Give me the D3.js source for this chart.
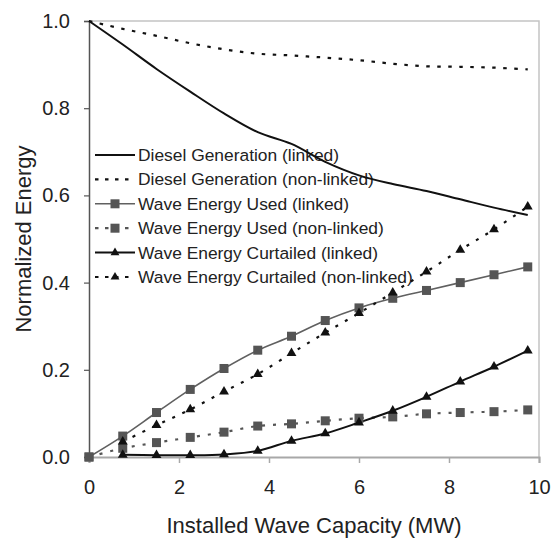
<!DOCTYPE html>
<html>
<head>
<meta charset="utf-8">
<script src="https://cdn.jsdelivr.net/npm/d3@7"></script>
<style>
  html, body { margin: 0; padding: 0; background: #fff; }
  svg { display: block; font-family: Arial, "Liberation Sans", sans-serif; }
</style>
</head>
<body>
<svg id="chart" width="554" height="539"></svg>
<script>
// ---- data ----
const capacity = [0, 0.75, 1.5, 2.25, 3, 3.75, 4.5, 5.25, 6, 6.75, 7.5, 8.25, 9, 9.75];
const dieselLinked    = [1.0, 0.946, 0.890, 0.838, 0.788, 0.745, 0.718, 0.677, 0.646, 0.626, 0.610, 0.591, 0.572, 0.555];
const dieselNonLinked = [1.0, 0.982, 0.966, 0.949, 0.935, 0.925, 0.921, 0.916, 0.910, 0.902, 0.896, 0.895, 0.893, 0.889];
const usedLinked      = [0, 0.048, 0.102, 0.155, 0.203, 0.245, 0.277, 0.313, 0.342, 0.364, 0.382, 0.400, 0.418, 0.436];
const usedNonLinked   = [0, 0.020, 0.033, 0.045, 0.057, 0.071, 0.076, 0.083, 0.089, 0.092, 0.099, 0.102, 0.104, 0.108];
const curtLinked      = [null, 0.005, 0.004, 0.004, 0.006, 0.014, 0.037, 0.054, 0.079, 0.106, 0.138, 0.173, 0.207, 0.244];
const curtNonLinked   = [null, 0.035, 0.073, 0.109, 0.150, 0.190, 0.238, 0.285, 0.330, 0.377, 0.425, 0.475, 0.522, 0.574];
const seriesNames = [
  "Diesel Generation (linked)",
  "Diesel Generation (non-linked)",
  "Wave Energy Used (linked)",
  "Wave Energy Used (non-linked)",
  "Wave Energy Curtailed (linked)",
  "Wave Energy Curtailed (non-linked)"
];
const xTicks = [0, 2, 4, 6, 8, 10];
const yTicks = [0, 0.2, 0.4, 0.6, 0.8, 1.0];
const xTitle = "Installed Wave Capacity (MW)";
const yTitle = "Normalized Energy";

// ---- styles ----
const styles = [
  { values: dieselLinked,    color: "#111", width: 2,   dash: null,      marker: null },
  { values: dieselNonLinked, color: "#111", width: 2.2, dash: "3.5,7.5", marker: null },
  { values: usedLinked,      color: "#606060", width: 1.6, dash: null,   marker: "square" },
  { values: usedNonLinked,   color: "#555", width: 2.2, dash: "3,8",     marker: "square" },
  { values: curtLinked,      color: "#111", width: 2,   dash: null,      marker: "triangle" },
  { values: curtNonLinked,   color: "#111", width: 2.2, dash: "3,8",     marker: "triangle" }
];
const markerColor = { square: "#555", triangle: "#111" };

const svg = d3.select("#chart");
const x = d3.scaleLinear().domain([0, 10]).range([89, 539]);
const y = d3.scaleLinear().domain([0, 1]).range([457, 21]);

// plot frame (top and right)
svg.append("path")
  .attr("d", `M${x(0)},${y(1)}H${x(10)}V${y(0)}`)
  .attr("fill", "none").attr("stroke", "#c4c4c4").attr("stroke-width", 1.5);

// x axis at y=0
const xAxis = svg.append("g").attr("transform", `translate(0,${y(0)})`)
  .call(d3.axisBottom(x).tickValues(xTicks).tickSize(6).tickPadding(17).tickFormat(d3.format("d")));
xAxis.select(".domain").attr("stroke", "#a8a8a8").attr("stroke-width", 2);
xAxis.selectAll(".tick line").attr("stroke", "#a8a8a8").attr("stroke-width", 1.5);
xAxis.selectAll("text").attr("font-size", 20).attr("fill", "#222")
  .attr("font-family", "Arial, 'Liberation Sans', sans-serif");

// y axis
const yAxis = svg.append("g").attr("transform", `translate(${x(0)},0)`)
  .call(d3.axisLeft(y).tickValues(yTicks).tickSize(5).tickPadding(14).tickFormat(d3.format(".1f")));
yAxis.select(".domain").attr("stroke", "#555").attr("stroke-width", 1.5);
yAxis.selectAll(".tick line").attr("stroke", "#555").attr("stroke-width", 1.2);
yAxis.selectAll("text").attr("font-size", 20).attr("fill", "#222")
  .attr("font-family", "Arial, 'Liberation Sans', sans-serif");
yAxis.select(".domain").raise();

// titles
svg.append("text").attr("x", (x(0) + x(10)) / 2).attr("y", 533)
  .attr("text-anchor", "middle").attr("font-size", 22).attr("fill", "#222").text(xTitle);
svg.append("text").attr("transform", `translate(31,${(y(0) + y(1)) / 2}) rotate(-90)`)
  .attr("text-anchor", "middle").attr("font-size", 22).attr("fill", "#222").text(yTitle);

// legend
const legendX0 = 95, legendX1 = 135, legendTextX = 138, legendY0 = 155, legendStep = 24.4;
function drawMarker(g, type, cx, cy, sz) {
  if (type === "square") {
    g.append("rect").attr("x", cx - 4.5).attr("y", cy - 4.5).attr("width", 9).attr("height", 9)
      .attr("fill", markerColor.square);
  } else if (type === "triangle") {
    g.append("path").attr("d", d3.symbol().type(d3.symbolTriangle).size(sz || 42)())
      .attr("transform", `translate(${cx},${cy})`).attr("fill", markerColor.triangle);
  }
}
const legend = svg.append("g");
seriesNames.forEach((name, i) => {
  const s = styles[i];
  const cy = legendY0 + i * legendStep;
  legend.append("line").attr("x1", legendX0).attr("x2", legendX1).attr("y1", cy).attr("y2", cy)
    .attr("stroke", s.color).attr("stroke-width", s.width)
    .attr("stroke-dasharray", s.dash ? "3.5,6.5" : null);
  if (s.marker) drawMarker(legend, s.marker, (legendX0 + legendX1) / 2, cy, 34);
  legend.append("text").attr("x", legendTextX).attr("y", cy + 6)
    .attr("font-size", 17.4).attr("fill", "#222").text(name);
});

// series
const line = d3.line()
  .x(d => x(d[0])).y(d => y(d[1]))
  .curve(d3.curveCatmullRom.alpha(0.5));

styles.forEach(s => {
  const pts = capacity.map((c, i) => [c, s.values[i]]).filter(p => p[1] != null);
  svg.append("path").attr("d", line(pts))
    .attr("fill", "none").attr("stroke", s.color).attr("stroke-width", s.width)
    .attr("stroke-dasharray", s.dash);
});
styles.forEach(s => {
  if (!s.marker) return;
  const g = svg.append("g");
  capacity.forEach((c, i) => {
    if (s.values[i] == null) return;
    drawMarker(g, s.marker, x(c), y(s.values[i]));
  });
});
</script>
</body>
</html>
